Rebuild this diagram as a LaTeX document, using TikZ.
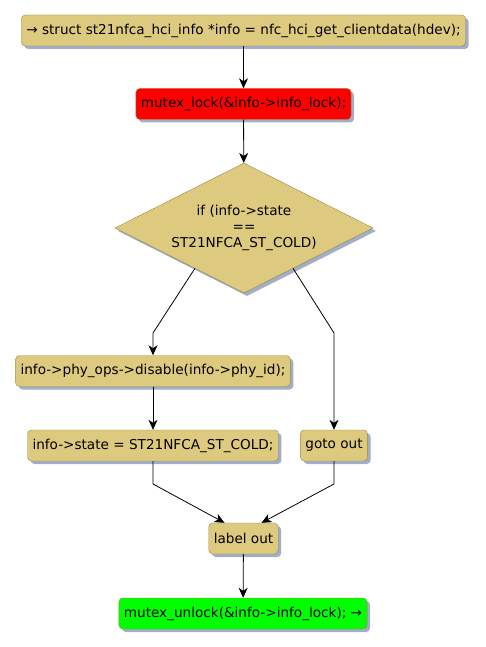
\documentclass[tikz,border=0pt]{standalone}
\usepackage{fontspec}
\setmainfont{DejaVu Sans}
\usetikzlibrary{arrows.meta,shapes.geometric,shadows,calc}
\definecolor{stepfill}{RGB}{222,202,127}
\definecolor{stepline}{RGB}{155,135,60}
\definecolor{shadowblue}{RGB}{160,174,202}

\begin{document}
\begin{tikzpicture}[
    x=1pt, y=-1pt,
    action/.style={
        draw=stepline,
        fill=stepfill,
        rounded corners=4pt,
        font=\fontsize{13.6}{16}\selectfont,
        inner xsep=5pt,
        minimum height=31pt,
        drop shadow={shadow xshift=3pt, shadow yshift=-3pt, fill=shadowblue, opacity=1}
    },
    lockbox/.style={action, fill=red},
    unlockbox/.style={action, fill=green},
    decision/.style={
        diamond,
        draw=stepline,
        fill=stepfill,
        aspect=2,
        inner sep=0pt,
        align=center,
        minimum width=258pt,
        minimum height=130pt,
        font=\fontsize{13.6}{16}\selectfont,
        drop shadow={shadow xshift=3pt, shadow yshift=-3pt, fill=shadowblue, opacity=1}
    },
    flow/.style={-{Stealth[length=10pt, width=9pt, inset=3pt]}, line width=0.8pt}
]
\useasboundingbox (0,0) rectangle (485,647);

\node[action] (entry) at (243.5,30.5) {→ struct st21nfca\_hci\_info *info = nfc\_hci\_get\_clientdata(hdev);};
\node[lockbox] (lock) at (243.5,104) {mutex\_lock(\&info->info\_lock);};
\node[decision] (cond) at (244,228) {if (info->state\\==\\ST21NFCA\_ST\_COLD)};
\node[action] (disable) at (153,371) {info->phy\_ops->disable(info->phy\_id);};
\node[action] (setcold) at (153,445.5) {info->state = ST21NFCA\_ST\_COLD;};
\node[action] (gotoout) at (334,445.5) {goto out};
\node[action] (labelout) at (243.5,538.5) {label out};
\node[unlockbox] (unlock) at (243,613.5) {mutex\_unlock(\&info->info\_lock); →};

\coordinate (lbend) at (153,333);
\coordinate (rbend) at (334,333);
\coordinate (ljoin) at (153,484);
\coordinate (rjoin) at (334,484);

\draw[flow] (entry) -- (lock);
\draw[flow] (lock) -- (cond);
\draw[flow] ($(cond.west)!0.62!(cond.south)$) -- (lbend) -- (disable.north);
\draw[flow] ($(cond.east)!0.62!(cond.south)$) -- (rbend) -- (gotoout.north);
\draw[flow] (disable) -- (setcold);
\draw[flow] (setcold.south) -- (ljoin) -- ([xshift=-19pt]labelout.north);
\draw[flow] (gotoout.south) -- (rjoin) -- ([xshift=18pt]labelout.north);
\draw[flow] (labelout) -- (unlock);

\end{tikzpicture}
\end{document}
